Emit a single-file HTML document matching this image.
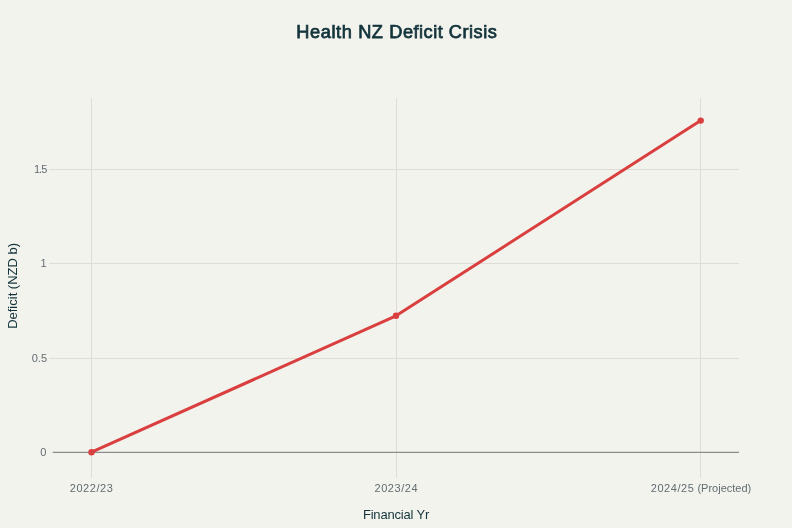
<!DOCTYPE html>
<html lang="en">
<head>
<meta charset="utf-8">
<title>Health NZ Deficit Crisis</title>
<style>
  html, body { margin: 0; padding: 0; background: #f3f3ee; }
  body { width: 792px; height: 528px; overflow: hidden; }
  svg { display: block; will-change: transform; opacity: 0.999; }
  text { font-family: "Liberation Sans", Arial, sans-serif; }
  .tick { font-size: 11px; fill: #626c71; }
  .d { letter-spacing: 0.55px; }
  .axt { font-size: 13px; fill: #13343b; }
  .fx { letter-spacing: -0.18px; }
  .title { font-size: 18.2px; fill: #13343b; stroke: #13343b; stroke-width: 0.75px; letter-spacing: 0.5px; }
  .grid { stroke: #dedcd4; stroke-width: 1; shape-rendering: crispEdges; }
  .zero { stroke: #8a8d8c; stroke-width: 1.35; }
</style>
</head>
<body>
<svg width="792" height="528" viewBox="0 0 792 528">
  <rect x="0" y="0" width="792" height="528" fill="#f3f3ee"/>

  <!-- vertical gridlines -->
  <line class="grid" x1="91.5" y1="98" x2="91.5" y2="478"/>
  <line class="grid" x1="396.5" y1="98" x2="396.5" y2="478"/>
  <line class="grid" x1="700.5" y1="98" x2="700.5" y2="478"/>
  <!-- horizontal gridlines -->
  <line class="grid" x1="49" y1="169.5" x2="739" y2="169.5"/>
  <line class="grid" x1="49" y1="263.5" x2="739" y2="263.5"/>
  <line class="grid" x1="49" y1="358.5" x2="739" y2="358.5"/>
  <!-- zero line -->
  <line class="zero" x1="52.7" y1="452.33" x2="739" y2="452.33"/>

  <!-- data line -->
  <polyline points="91.5,452.2 396,315.8 700.7,120.6" fill="none" stroke="#d93f3f" stroke-width="3" stroke-linejoin="round" stroke-linecap="round"/>
  <circle cx="91.5" cy="452.2" r="3.2" fill="#d93f3f"/>
  <circle cx="396" cy="315.8" r="3.2" fill="#d93f3f"/>
  <circle cx="700.7" cy="120.6" r="3.2" fill="#d93f3f"/>

  <!-- y tick labels -->
  <text class="tick" x="46.3" y="173.2" text-anchor="end" style="letter-spacing:-1px">1.5</text>
  <text class="tick" x="46.6" y="267.4" text-anchor="end">1</text>
  <text class="tick" x="47" y="361.9" text-anchor="end">0.5</text>
  <text class="tick" x="46.4" y="456" text-anchor="end">0</text>

  <!-- x tick labels -->
  <text class="tick d" x="91.6" y="491.9" text-anchor="middle">2022/23</text>
  <text class="tick d" x="396.3" y="491.9" text-anchor="middle">2023/24</text>
  <text class="tick" x="701" y="491.9" text-anchor="middle"><tspan class="d">2024/25</tspan> (Projected)</text>

  <!-- axis titles -->
  <text class="axt fx" x="396" y="519.3" text-anchor="middle">Financial Yr</text>
  <text class="axt" transform="translate(17.3,285.9) rotate(-90)" text-anchor="middle">Deficit (NZD b)</text>

  <!-- title -->
  <text class="title" x="497.3" y="38.4" text-anchor="end"><tspan style="letter-spacing:0.6px">Health NZ </tspan>Deficit Crisis</text>
</svg>
</body>
</html>
